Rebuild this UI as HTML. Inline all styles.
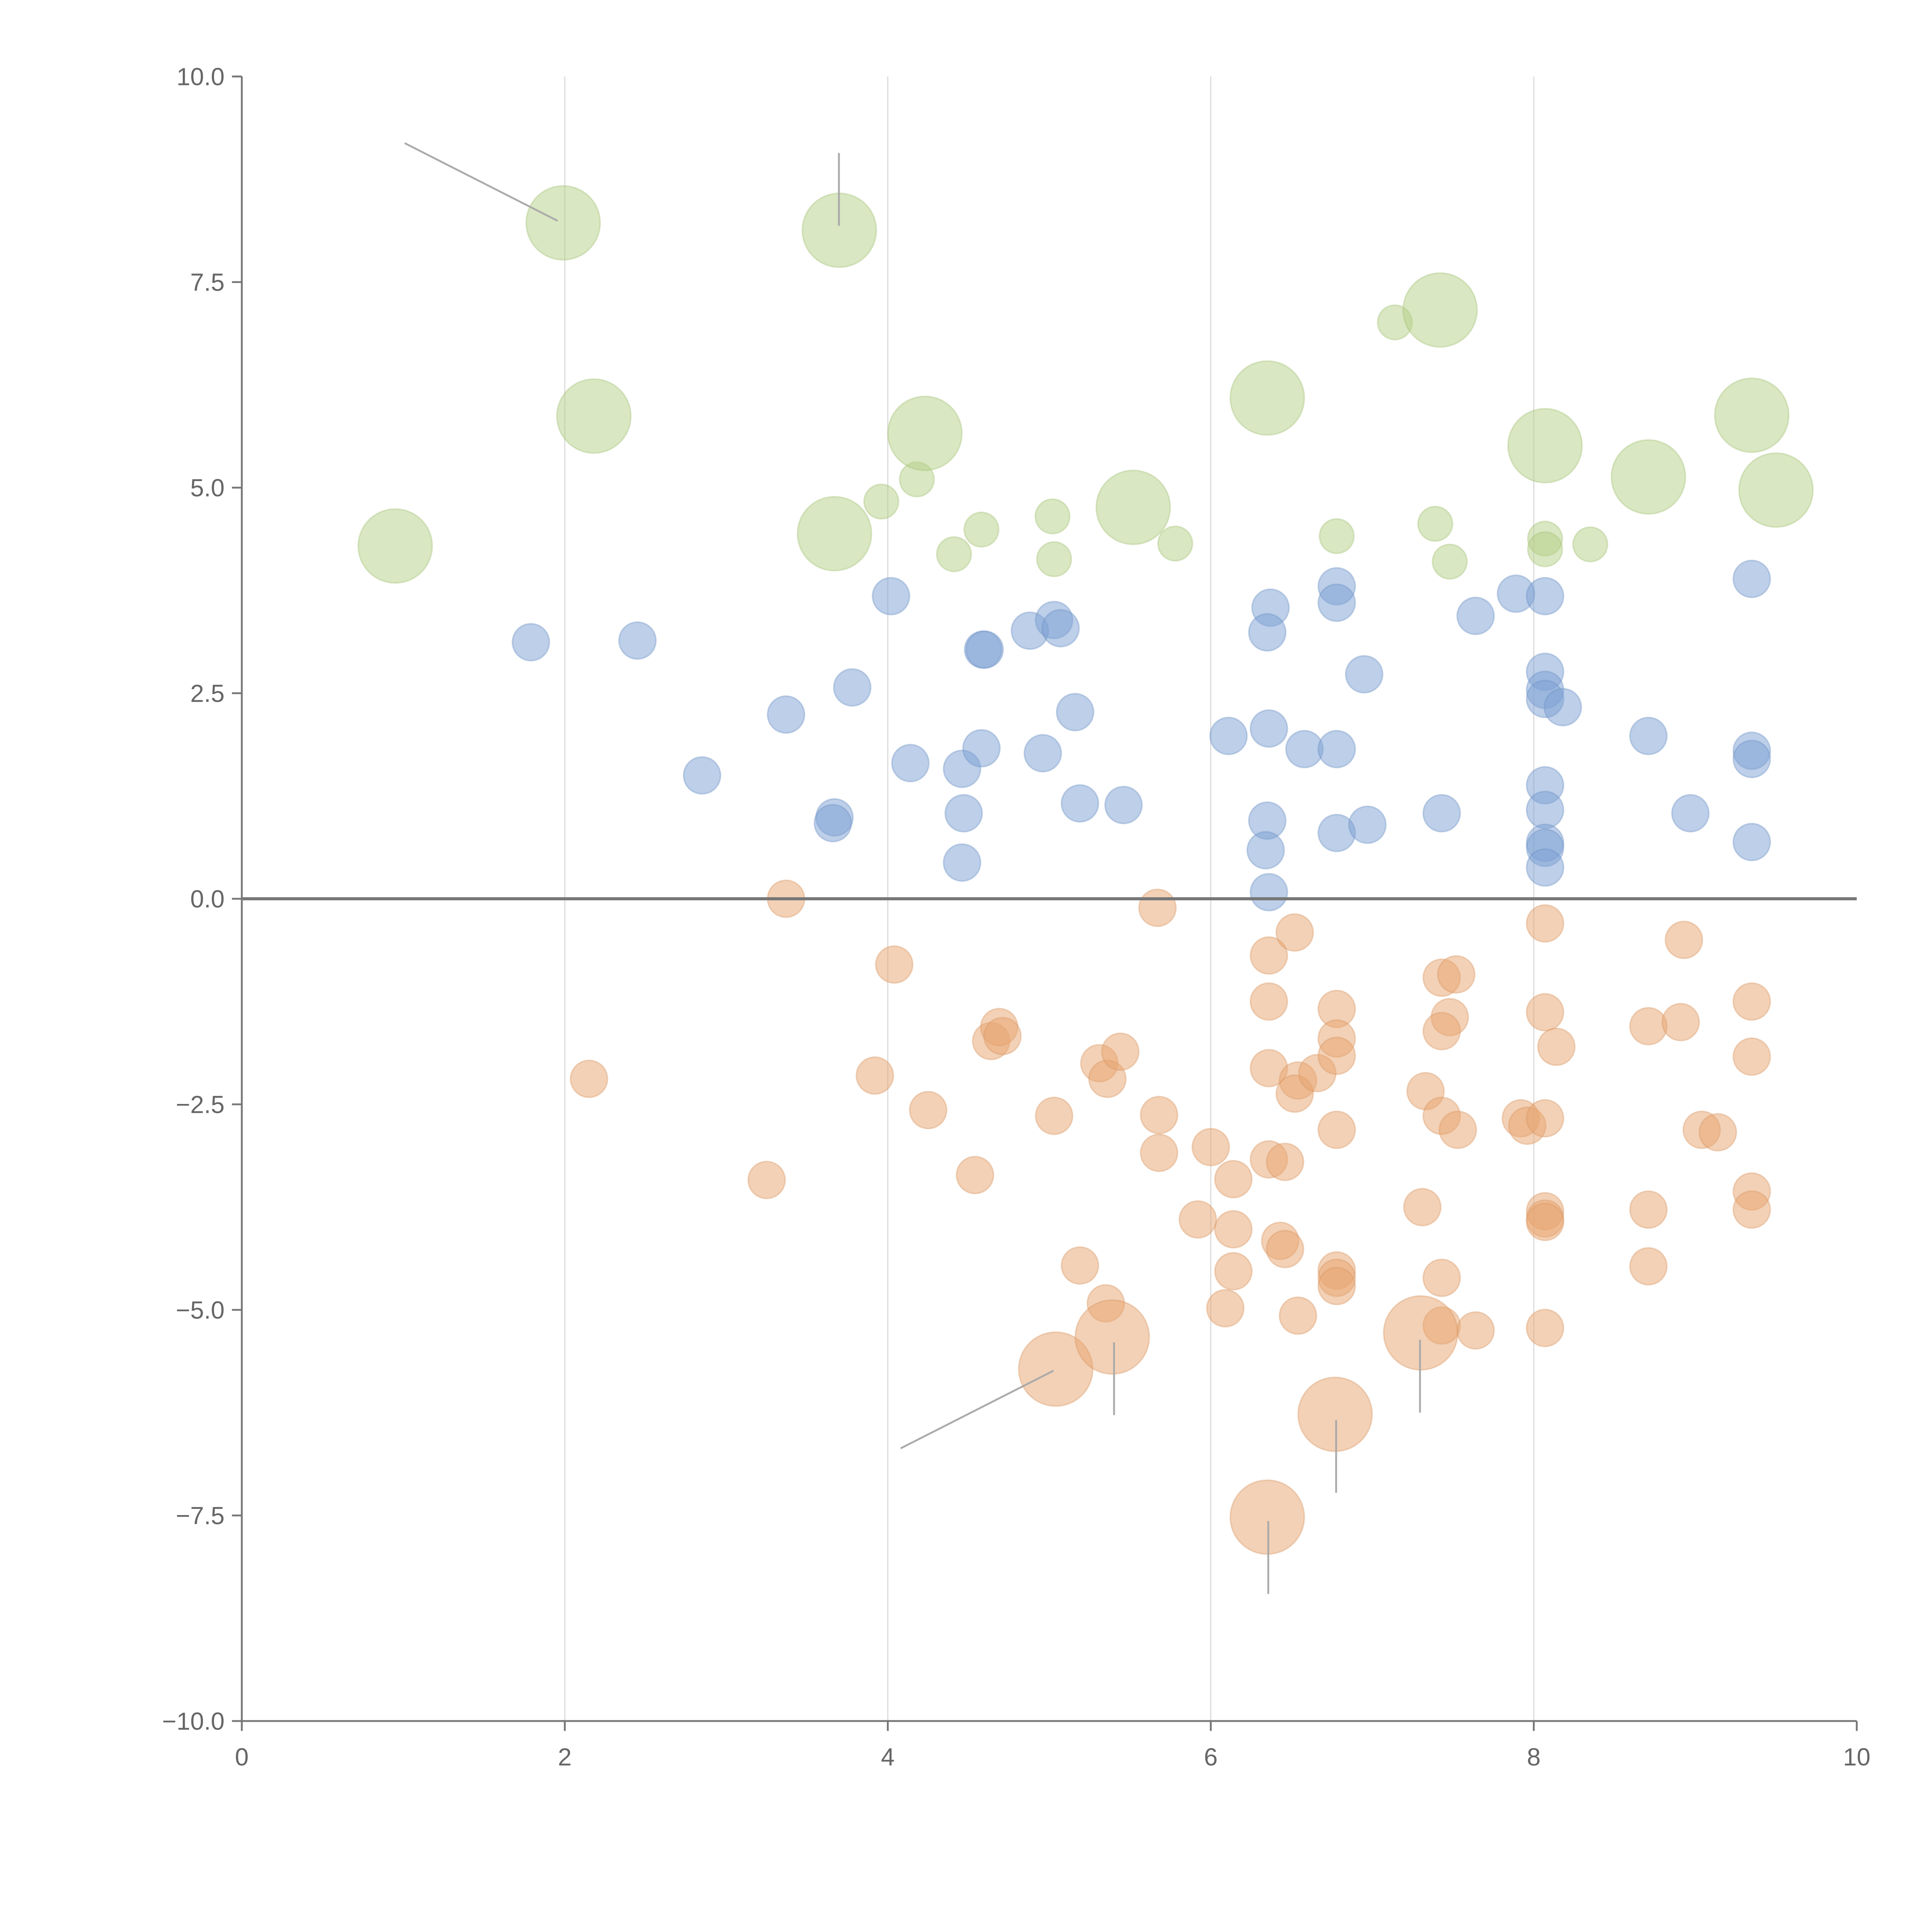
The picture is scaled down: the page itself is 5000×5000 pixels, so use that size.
<!DOCTYPE html>
<html><head><meta charset="utf-8"><style>html,body{margin:0;padding:0;background:#fff}svg{display:block}</style></head>
<body>
<svg id="chart" width="5000" height="5000" viewBox="0 0 1566 1566" xmlns="http://www.w3.org/2000/svg" font-family="Liberation Sans, sans-serif">
<g id="grid"></g>
<g id="marks"></g>
<g id="axes"></g>
</svg>
<script>
const xTicks=[0,2,4,6,8,10];
const yTicks=[10,7.5,5,2.5,0,-2.5,-5,-7.5,-10];
const greenBigX=[1.99,3.70,2.18,0.95,4.23,3.67,5.52,6.35,7.42,8.07,8.71,9.35,9.50];
const greenBigY=[8.22,8.13,5.87,4.29,5.66,4.44,4.76,6.09,7.16,5.51,5.13,5.88,4.97];
const greenSmallX=[3.96,4.18,4.41,4.58,5.02,5.03,5.78,6.78,7.14,7.39,7.48,8.07,8.07,8.35];
const greenSmallY=[4.83,5.10,4.19,4.49,4.65,4.13,4.32,4.41,7.01,4.56,4.10,4.38,4.25,4.31];
const blueX=[1.79,2.45,2.85,3.37,3.67,3.66,3.78,4.02,4.14,4.46,4.47,4.46,4.58,4.59,4.60,4.88,4.96,5.03,5.07,5.16,5.19,5.46,6.11,6.36,6.37,6.35,6.35,6.34,6.36,6.58,6.78,6.78,6.78,6.78,6.95,6.97,7.43,7.64,7.89,8.07,8.07,8.07,8.07,8.18,8.07,8.07,8.07,8.07,8.07,8.71,8.97,9.35,9.35,9.35,9.35];
const blueY=[3.12,3.14,1.50,2.24,0.99,0.92,2.57,3.68,1.65,1.58,1.04,0.44,1.83,3.03,3.03,3.26,1.77,3.39,3.29,2.27,1.16,1.14,1.98,2.07,3.54,3.24,0.95,0.59,0.08,1.82,1.82,3.80,3.60,0.80,2.73,0.90,1.04,3.44,3.71,3.68,2.76,2.54,2.43,2.33,1.38,1.08,0.68,0.62,0.38,1.98,1.04,3.89,1.80,1.70,0.69];
const orangeX=[3.37,2.15,3.25,3.92,4.04,4.25,4.54,4.64,4.69,4.71,5.03,5.19,5.31,5.36,5.44,5.35,5.67,5.68,5.68,6.00,5.92,6.14,6.14,6.14,6.09,6.36,6.52,6.36,6.36,6.36,6.46,6.43,6.46,6.54,6.52,6.66,6.78,6.78,6.78,6.78,6.78,6.78,6.78,6.54,7.33,7.43,7.53,7.31,7.43,7.52,7.48,7.43,7.43,7.43,7.64,7.92,7.96,8.07,8.07,8.07,8.14,8.07,8.07,8.07,8.07,8.71,8.91,8.93,9.35,9.35,8.71,8.71,9.04,9.14,9.35,9.35];
const orangeY=[0.00,-2.19,-3.42,-2.15,-0.80,-2.57,-3.36,-1.73,-1.56,-1.67,-2.64,-4.46,-2.00,-2.19,-1.86,-4.92,-0.11,-2.63,-3.09,-3.02,-3.90,-3.41,-4.02,-4.53,-4.98,-0.69,-0.41,-1.25,-2.06,-3.17,-3.20,-4.16,-4.26,-2.21,-2.37,-2.12,-1.34,-1.70,-1.91,-2.81,-4.52,-4.61,-4.71,-5.07,-2.34,-2.64,-2.81,-3.75,-0.96,-0.92,-1.44,-1.61,-4.61,-5.19,-5.25,-2.67,-2.76,-2.67,-0.30,-1.38,-1.80,-3.80,-3.89,-3.93,-5.22,-1.55,-1.50,-0.50,-1.25,-1.92,-3.78,-4.47,-2.81,-2.84,-3.56,-3.78];
const orangeBigX=[5.04,5.39,6.77,7.30,6.35];
const orangeBigY=[-5.72,-5.33,-6.27,-5.28,-7.52];
const NS='http://www.w3.org/2000/svg';
const X0=196,X1=1505,Y0=1395,Y1=62;
function sx(v){return X0+(v-0)/(10-0)*(X1-X0);}
function sy(v){return Y0-(v+10)/20*(Y0-Y1);}
function mk(tag,attrs,parent){const e=document.createElementNS(NS,tag);for(const k in attrs)e.setAttribute(k,attrs[k]);parent.appendChild(e);return e;}
const grid=document.getElementById('grid'),marks=document.getElementById('marks'),axes=document.getElementById('axes');
xTicks.forEach(t=>{if(t>0&&t<10){const l=mk('line',{x1:sx(t),x2:sx(t),y1:Y1,y2:Y0,stroke:'#ddd','stroke-width':1},grid);

}});
function series(xs,ys,r,fill,stroke,name){xs.forEach((x,i)=>{const c=mk('circle',{cx:sx(x),cy:sy(ys[i]),r:r,fill:fill,'fill-opacity':0.5,stroke:stroke,'stroke-opacity':0.35,'stroke-width':1.2},marks);

});}
series(blueX,blueY,15,'#7b9fd4','#6b8fc4','blue-point');
series(orangeX,orangeY,15,'#e8a46e','#d89460','orange-point');
series(greenSmallX,greenSmallY,14,'#b3cf86','#a3bf76','green-point');
series(greenBigX,greenBigY,30,'#b3cf86','#a3bf76','green-big-point');
series(orangeBigX,orangeBigY,30,'#e8a46e','#d89460','orange-big-point');
const leaders=[[328,116,452,179],[680,124,680,183],[730,1174,854,1111],[903,1088,903,1147],[1083,1151,1083,1210],[1151,1086,1151,1145],[1028,1233,1028,1292]];
leaders.forEach(p=>{const l=mk('line',{x1:p[0],y1:p[1],x2:p[2],y2:p[3],stroke:'#aaa','stroke-width':1.5},marks);

});
const z=mk('line',{x1:X0,x2:X1,y1:sy(0),y2:sy(0),stroke:'#777','stroke-width':2.5},axes);


const ya=mk('line',{x1:X0,x2:X0,y1:Y1,y2:Y0,stroke:'#777','stroke-width':1.5},axes);


const xa=mk('line',{x1:X0,x2:X1,y1:Y0,y2:Y0,stroke:'#777','stroke-width':1.5},axes);


yTicks.forEach(t=>{mk('line',{x1:X0-8,x2:X0,y1:sy(t),y2:sy(t),stroke:'#777','stroke-width':1.5},axes);
const tx=mk('text',{x:X0-14,y:sy(t)+7,'text-anchor':'end','font-size':20,fill:'#666'},axes);
tx.textContent=(t<0?'\u2212'+(-t).toFixed(1):t.toFixed(1));

});
xTicks.forEach(t=>{mk('line',{x1:sx(t),x2:sx(t),y1:Y0,y2:Y0+8,stroke:'#777','stroke-width':1.5},axes);
const tx=mk('text',{x:sx(t),y:Y0+36,'text-anchor':'middle','font-size':20,fill:'#666'},axes);
tx.textContent=String(t);

});
</script>
</body></html>
